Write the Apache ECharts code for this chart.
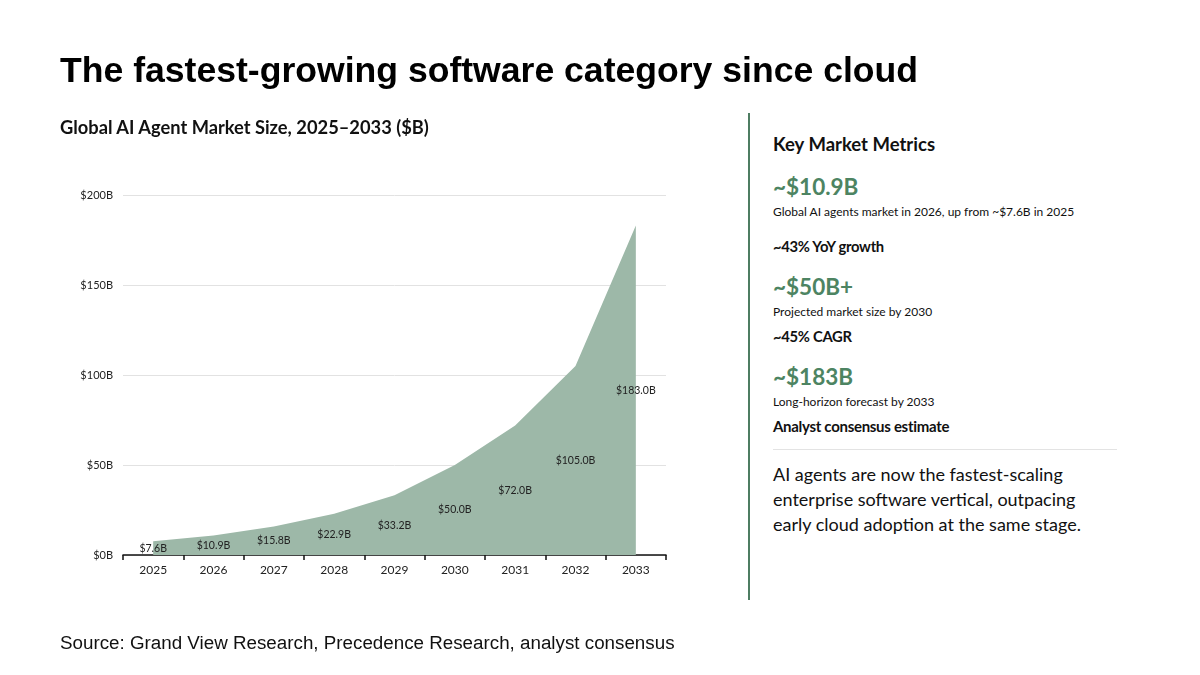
<!DOCTYPE html>
<html>
<head>
<meta charset="UTF-8">
<title>AI Agent Market</title>
<script src="https://cdn.jsdelivr.net/npm/echarts@6/dist/echarts.min.js"></script>
<style>
  html, body { margin:0; padding:0; background:#fff; }
  body { width:1200px; height:675px; position:relative; overflow:hidden; font-family:Lato, sans-serif; color:#111; }
  .t { position:absolute; white-space:nowrap; }
  #title { left:60px; top:50px; font-family:"Liberation Sans", Arial, sans-serif; font-weight:bold; font-size:35.6px; line-height:40px; color:#000; }
  #subtitle { left:60px; top:115px; font-weight:bold; font-size:18.3px; line-height:24px; }
  #source { left:60px; top:631px; font-family:"Liberation Sans", Arial, sans-serif; font-size:18.8px; line-height:24px; color:#111; }
  #divider { position:absolute; left:748px; top:113px; width:2px; height:487px; background:#4e7d62; }
  #rule { position:absolute; left:773px; top:449px; width:344px; height:1px; background:#e3e3e3; }
  .big { color:#4d8462; font-weight:bold; font-size:22.5px; line-height:28px; }
  .small { font-size:12px; line-height:16px; }
  .bold { font-weight:bold; font-size:14.8px; line-height:20px; letter-spacing:-0.3px; }
  #main { position:absolute; left:0; top:0; width:740px; height:675px; }
</style>
</head>
<body>
<div id="main"></div>
<div class="t" id="title">The fastest-growing software category since cloud</div>
<div class="t" id="subtitle">Global AI Agent Market Size, 2025–2033 ($B)</div>
<div class="t" id="source">Source: Grand View Research, Precedence Research, analyst consensus</div>

<div id="divider"></div>
<div class="t" style="left:773px;top:132px;font-weight:bold;font-size:18.5px;line-height:24px;">Key Market Metrics</div>
<div class="t big" style="left:773px;top:173px;">~$10.9B</div>
<div class="t small" style="left:773px;top:204px;">Global AI agents market in 2026, up from ~$7.6B in 2025</div>
<div class="t bold" style="left:773px;top:236px;">~43% YoY growth</div>
<div class="t big" style="left:773px;top:273px;">~$50B+</div>
<div class="t small" style="left:773px;top:304px;">Projected market size by 2030</div>
<div class="t bold" style="left:773px;top:326px;">~45% CAGR</div>
<div class="t big" style="left:773px;top:363px;">~$183B</div>
<div class="t small" style="left:773px;top:394px;">Long-horizon forecast by 2033</div>
<div class="t bold" style="left:773px;top:416px;font-size:15px;">Analyst consensus estimate</div>
<div id="rule"></div>
<div class="t" style="left:773px;top:462px;font-size:18px;line-height:25px;white-space:normal;width:360px;">AI agents are now the fastest-scaling<br>enterprise software vertical, outpacing<br>early cloud adoption at the same stage.</div>

<script type="text/javascript">
// market size in $B
var years = ['2025', '2026', '2027', '2028', '2029', '2030', '2031', '2032', '2033'];
var marketSize = [7.6, 10.9, 15.8, 22.9, 33.2, 50.0, 72.0, 105.0, 183.0];
var yTicks = [0, 50, 100, 150, 200];

var myChart = echarts.init(document.getElementById('main'));

var option = {
    animation: false,
    grid: { left: 123, top: 195, width: 543, height: 360 },
    xAxis: {
        type: 'category',
        data: years,
        boundaryGap: true,
        axisLine: { lineStyle: { color: '#111', width: 1.5 } },
        axisTick: { show: true, length: 5, lineStyle: { color: '#111', width: 1.5 } },
        axisLabel: { color: '#222', fontFamily: 'Lato', fontSize: 12, margin: 9 }
    },
    yAxis: {
        type: 'value',
        min: yTicks[0],
        max: yTicks[yTicks.length - 1],
        interval: 50,
        axisLine: { show: false },
        axisTick: { show: false },
        splitLine: { lineStyle: { color: '#e2e2e2', width: 1 } },
        axisLabel: {
            color: '#222', fontFamily: 'Lato', fontSize: 11, margin: 10,
            formatter: function (v) { return '$' + v + 'B'; }
        }
    },
    series: [
        {
            name: 'Market size',
            type: 'line',
            data: marketSize,
            showSymbol: false,
            lineStyle: { width: 0 },
            areaStyle: { color: '#9db8a8', opacity: 1 },
            z: 1
        },
        {
            // invisible bars only carry the value labels in the middle of the area
            name: 'labels',
            type: 'bar',
            data: marketSize,
            barWidth: '40%',
            itemStyle: { color: 'rgba(0,0,0,0)' },
            label: {
                show: true,
                position: 'inside',
                color: '#222',
                fontFamily: 'Lato',
                fontSize: 10.5,
                formatter: function (p) { return '$' + p.value.toFixed(1) + 'B'; }
            },
            z: 3
        }
    ]
};

myChart.setOption(option);
</script>
</body>
</html>
